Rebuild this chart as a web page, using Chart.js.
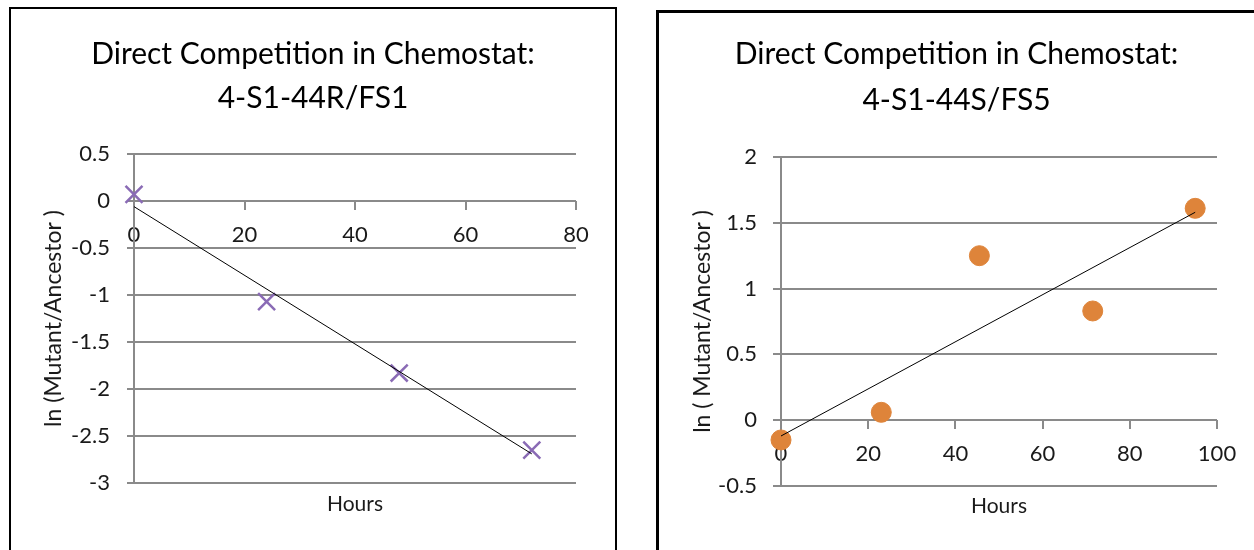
<!DOCTYPE html>
<html>
<head>
<meta charset="utf-8">
<script src="https://cdn.jsdelivr.net/npm/chart.js@4"></script>
<style>
  html, body { margin: 0; padding: 0; background: #fff; overflow: hidden; }
  .panel { position: absolute; background: #fff; border-style: solid; border-color: #000; }
  #leftPanel { left: 9px; top: 7px; width: 604px; height: 560px; border-width: 2px; }
  #rightPanel { left: 656px; top: 10px; width: 640px; height: 560px; border-width: 3px; }
  canvas { display: block; }
</style>
</head>
<body>
<div class="panel" id="leftPanel"><canvas id="leftChart" width="604" height="541"></canvas></div>
<div class="panel" id="rightPanel"><canvas id="rightChart" width="595" height="537"></canvas></div>
<script>
"use strict";

// left chart: 4-S1-44R/FS1
const leftHours = [0, 24, 48, 72];
const leftLnRatio = [0.07, -1.07, -1.83, -2.65];
const leftTrendHours = [0, 72];
const leftTrendValues = [-0.06, -2.69];
const leftXTicks = [0, 20, 40, 60, 80];
const leftYTicks = [0.5, 0, -0.5, -1, -1.5, -2, -2.5, -3];

// right chart: 4-S1-44S/FS5
const rightHours = [0, 23, 45.5, 71.5, 95];
const rightLnRatio = [-0.15, 0.06, 1.25, 0.83, 1.61];
const rightTrendHours = [0, 95];
const rightTrendValues = [-0.12, 1.58];
const rightXTicks = [0, 20, 40, 60, 80, 100];
const rightYTicks = [2, 1.5, 1, 0.5, 0, -0.5];

const gridGray = '#8a8a8a';
const textColor = '#1a1a1a';
const fontFamily = 'Lato, "Open Sans", sans-serif';

function points(xs, ys) {
  return xs.map((x, i) => ({x: x, y: ys[i]}));
}

// excel style labels: 1 not 1.0
function plainLabel(v) {
  return String(v);
}

function makeChart(canvasId, cfg) {
  const ctx = document.getElementById(canvasId).getContext('2d');
  return new Chart(ctx, {
    type: 'scatter',
    data: {
      datasets: [{
        // trendline, drawn on top of the markers
        data: points(cfg.trendX, cfg.trendY),
        showLine: true,
        borderColor: '#000',
        borderWidth: 1,
        pointRadius: 0,
        clip: false,
        order: 0
      }, {
        data: points(cfg.xs, cfg.ys),
        pointStyle: cfg.pointStyle,
        pointRadius: cfg.pointRadius,
        pointBorderWidth: cfg.pointBorderWidth,
        pointBackgroundColor: cfg.color,
        pointBorderColor: cfg.color,
        clip: false,
        order: 1
      }]
    },
    options: {
      responsive: false,
      animation: false,
      events: [],
      layout: { padding: 0 },
      plugins: {
        legend: { display: false },
        tooltip: { enabled: false },
        title: {
          display: true,
          text: cfg.title,
          color: '#000',
          font: { family: fontFamily, size: 30, weight: 'normal', lineHeight: cfg.titleLine / 30 },
          padding: { top: cfg.titleTop, bottom: cfg.titleBottom }
        }
      },
      scales: {
        x: {
          type: 'linear',
          position: { y: 0 },
          min: cfg.xTicks[0],
          max: cfg.xTicks[cfg.xTicks.length - 1],
          afterBuildTicks: s => { s.ticks = cfg.xTicks.map(v => ({value: v})); },
          afterFit: s => { s.height = 0; },
          grid: { drawOnChartArea: false, drawTicks: true, tickLength: 9, color: gridGray, lineWidth: 2 },
          border: { display: false },
          ticks: { color: textColor, padding: 12, maxRotation: 0, callback: plainLabel,
                   font: { family: fontFamily, size: 22 } }
        },
        xb: {
          type: 'linear',
          position: 'bottom',
          afterFit: s => { s.height = cfg.bottomSpace; },
          grid: { display: false },
          border: { display: false },
          ticks: { display: false },
          title: {
            display: true,
            text: 'Hours',
            color: textColor,
            font: { family: fontFamily, size: 21 },
            padding: { top: 0, bottom: cfg.hoursBottom }
          }
        },
        y: {
          type: 'linear',
          position: 'left',
          min: Math.min(...cfg.yTicks),
          max: Math.max(...cfg.yTicks),
          afterBuildTicks: s => { s.ticks = cfg.yTicks.map(v => ({value: v})); },
          afterFit: s => { s.width = cfg.leftSpace; },
          grid: { color: gridGray, lineWidth: 2, tickLength: cfg.yTickLen },
          border: { display: true, color: gridGray, width: 2 },
          ticks: { color: textColor, padding: cfg.yTickPad, callback: plainLabel,
                   font: { family: fontFamily, size: 22 } },
          title: {
            display: true,
            text: cfg.yTitle,
            color: textColor,
            font: { family: fontFamily, size: 23 },
            padding: { top: cfg.yTitleTop, bottom: 0 }
          }
        },
        yr: {
          type: 'linear',
          position: 'right',
          afterFit: s => { s.width = cfg.rightSpace; },
          grid: { display: false },
          border: { display: false },
          ticks: { display: false }
        }
      }
    }
  });
}

makeChart('leftChart', {
  title: ['Direct Competition in Chemostat:', '4-S1-44R/FS1'],
  titleLine: 44, titleTop: 23, titleBottom: 34,
  xs: leftHours, ys: leftLnRatio,
  trendX: leftTrendHours, trendY: leftTrendValues,
  xTicks: leftXTicks, yTicks: leftYTicks,
  pointStyle: 'crossRot', pointRadius: 12, pointBorderWidth: 2.5, color: '#8a6bb5',
  yTitle: 'ln (Mutant/Ancestor )',
  leftSpace: 123, rightSpace: 39, bottomSpace: 67,
  yTickLen: 7, yTickPad: 17, yTitleTop: 29, hoursBottom: 33
});

makeChart('rightChart', {
  title: ['Direct Competition in Chemostat:', '4-S1-44S/FS5'],
  titleLine: 46, titleTop: 18, titleBottom: 34,
  xs: rightHours, ys: rightLnRatio,
  trendX: rightTrendHours, trendY: rightTrendValues,
  xTicks: rightXTicks, yTicks: rightYTicks,
  pointStyle: 'circle', pointRadius: 10, pointBorderWidth: 1, color: '#de843a',
  yTitle: 'ln ( Mutant/Ancestor )',
  leftSpace: 122, rightSpace: 37, bottomSpace: 64,
  yTickLen: 8, yTickPad: 16, yTitleTop: 30, hoursBottom: 31
});
</script>
</body>
</html>
